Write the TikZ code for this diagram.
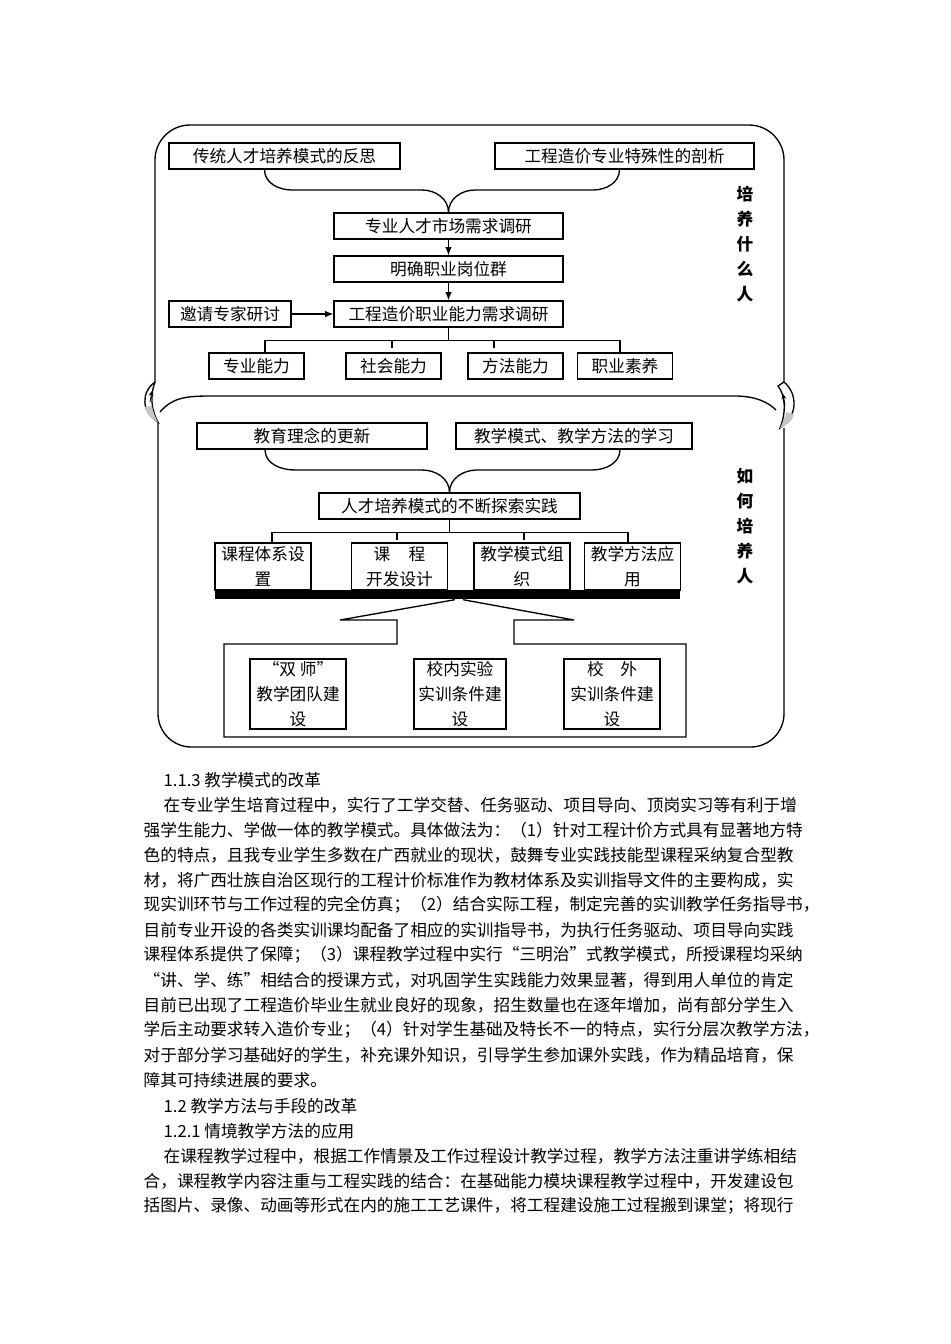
\documentclass[tikz,border=0pt]{standalone}
\usepackage{fontspec}
\setmainfont{Noto Sans CJK SC}
\usetikzlibrary{arrows.meta}
\XeTeXlinebreaklocale "zh"
\XeTeXlinebreakskip=0pt plus 1pt
\newcommand\fullline[2]{\hbox to #1{#2}}

\begin{document}
\begin{tikzpicture}[x=0.6pt, y=-0.6pt, line width=0.8pt,
  box/.style={draw, inner sep=0pt, minimum height=15.6pt, font=\fontsize{10pt}{15pt}\selectfont},
  twoline/.style={box, align=center, minimum height=28.2pt, minimum width=57.6pt},
  site/.style={box, align=center, minimum height=42pt, minimum width=57.6pt},
  side/.style={align=center, inner sep=0pt, font=\fontsize{10pt}{15pt}\selectfont\bfseries},
  arr/.style={-{Latex[length=5pt,width=4pt]}},
  body/.style={anchor=west, inner sep=0pt, font=\fontsize{10pt}{15pt}\selectfont}]
\useasboundingbox (0,0) rectangle (950,1344);

% upper frame: what to train
\draw[rounded corners=21pt] (155,383) -- (155,125) -- (784,125) -- (784,383);

% lower frame: how to train
\draw[rounded corners=20pt] (158,422) -- (158,747) -- (784,747) -- (784,428);
\draw (160,412) .. controls (172,398) and (185,396) .. (210,396) -- (735,396) .. controls (755,396) and (768,402) .. (776,410);

% curled arrows joining the two frames
\draw[fill=white] (155,382) .. controls (141,392) and (141,412) .. (158,422) .. controls (151,410) and (150,395) .. (155,382);
\fill[gray!45] (145,407) .. controls (147,415) and (152,420) .. (158,422) .. controls (155,417) and (153,412) .. (152,406) -- cycle;
\draw[-{Stealth[length=3pt,width=3pt]}, line width=0.5pt] (150,402) -- (152,391);
\draw[fill=white] (784,382) .. controls (798,394) and (798,416) .. (780,428) .. controls (786,414) and (786,396) .. (778,386) -- (784,382);
\fill[gray!45] (794,414) .. controls (792,422) and (786,426) .. (780,428) .. controls (783,422) and (785,418) .. (786,412) -- cycle;
\draw[-{Stealth[length=3pt,width=3pt]}, line width=0.5pt] (785,405) -- (783,394);

% what to train
\node[box, minimum width=138.6pt] (trad) at (284.5,156) {传统人才培养模式的反思};
\node[box, minimum width=155.4pt] (spec) at (624.5,156) {工程造价专业特殊性的剖析};
\node[box, minimum width=137.4pt] (market) at (448.5,226) {专业人才市场需求调研};
\node[box, minimum width=137.4pt] (post) at (448.5,269) {明确职业岗位群};
\node[box, minimum width=73.2pt] (expert) at (230,314) {邀请专家研讨};
\node[box, minimum width=137.4pt] (ability) at (448.5,314) {工程造价职业能力需求调研};
\node[box, minimum width=57pt] (a1) at (256.5,366) {专业能力};
\node[box, minimum width=57pt] (a2) at (393.5,366) {社会能力};
\node[box, minimum width=57pt] (a3) at (515.5,366) {方法能力};
\node[box, minimum width=57pt] (a4) at (625,366) {职业素养};
\node[side] (q1) at (745,244) {培\\养\\什\\么\\人};

\draw ([xshift=-12pt]trad.south) to[out=-90,in=180] (292,190) -- (422,190) to[out=0,in=90] (market.north);
\draw ([xshift=-3pt]spec.south) to[out=-90,in=0] (593,190) -- (475,190) to[out=180,in=90] (market.north);
\draw[arr] (market) -- (post);
\draw[arr] (post) -- (ability);
\draw[arr] (expert) -- (ability);
\draw (ability.south) -- ++(0,13) coordinate (j1);
\draw ([xshift=5pt]a1.north) |- (j1) -| ([xshift=-3pt]a4.north);
\draw ([xshift=-1pt]a2.north) ++(0,-4) -- ++(0,-8);
\draw ([xshift=-12.9pt]a3.north) ++(0,-4) -- ++(0,-8);

% how to train
\node[box, minimum width=138pt] (idea) at (312,436) {教育理念的更新};
\node[box, minimum width=141.6pt] (learn) at (574,436) {教学模式、教学方法的学习};
\node[box, minimum width=156.6pt] (explore) at (449.5,506) {人才培养模式的不断探索实践};
\node[twoline] (c1) at (263,566.5) {课程体系设\\置};
\node[twoline] (c2) at (399.5,566.5) {课\hspace{1.1em}程\\开发设计};
\node[twoline] (c3) at (522,566.5) {教学模式组\\织};
\node[twoline] (c4) at (632.5,566.5) {教学方法应\\用};
\node[fill=black, inner sep=0pt, minimum width=279pt, minimum height=5.4pt] (bar) at (447.5,594.5) {};
\node[site] (t1) at (298,694) {“双\ 师”\\教学团队建\\设};
\node[site, minimum width=55.2pt] (t2) at (460,694) {校内实验\\实训条件建\\设};
\node[site] (t3) at (612,694) {校\hspace{1em}外\\实训条件建\\设};
\node[side] (q2) at (745,526) {如\\何\\培\\养\\人};

\draw ([xshift=-28.2pt]idea.south) to[out=-90,in=180] (295,470) -- (422,470) to[out=0,in=90] (explore.north);
\draw ([xshift=27.6pt]learn.south) to[out=-90,in=0] (592,470) -- (477,470) to[out=180,in=90] (explore.north);
\draw (explore.south) -- ++(0,13) coordinate (j2);
\draw ([xshift=5.4pt]c1.north) |- (j2) -| ([xshift=-2.7pt]c4.north);
\draw ([xshift=-1.5pt]c2.north) ++(0,-2) -- ++(0,-7);
\draw ([xshift=1.2pt]c3.north) ++(0,-2) -- ++(0,-7);
\draw ([xshift=4.5pt]bar.south) -- (340,620) -- (397,620) -- (397,644) -- (224,644) -- (224,737)
  -- (686,737) -- (686,644) -- (514,644) -- (514,620) -- (574,620) -- ([xshift=9.3pt]bar.south);

% text of the page
\node[body] (l1) at (163,780) {1.1.3 教学模式的改革};
\node[body] (l2) at (163,805) {\fullline{385.8pt}{在专业学生培育过程中，实行了工学交替、任务驱动、项目导向、顶岗实习等有利于增}};
\node[body] (l3) at (143,830) {\fullline{397.8pt}{强学生能力、学做一体的教学模式。具体做法为：（1）针对工程计价方式具有显著地方特}};
\node[body] (l4) at (143,855) {\fullline{397.8pt}{色的特点，且我专业学生多数在广西就业的现状，鼓舞专业实践技能型课程采纳复合型教}};
\node[body] (l5) at (143,880) {\fullline{397.8pt}{材，将广西壮族自治区现行的工程计价标准作为教材体系及实训指导文件的主要构成，实}};
\node[body] (l6) at (143,905) {\fullline{406.2pt}{现实训环节与工作过程的完全仿真；（2）结合实际工程，制定完善的实训教学任务指导书，}};
\node[body] (l7) at (143,930) {\fullline{397.8pt}{目前专业开设的各类实训课均配备了相应的实训指导书，为执行任务驱动、项目导向实践}};
\node[body] (l8) at (143,955) {\fullline{397.8pt}{课程体系提供了保障；（3）课程教学过程中实行“三明治”式教学模式，所授课程均采纳}};
\node[body] (l9) at (143,980) {\fullline{397.8pt}{“讲、学、练”相结合的授课方式，对巩固学生实践能力效果显著，得到用人单位的肯定}};
\node[body] (l10) at (143,1005) {\fullline{397.8pt}{目前已出现了工程造价毕业生就业良好的现象，招生数量也在逐年增加，尚有部分学生入}};
\node[body] (l11) at (143,1030) {\fullline{406.2pt}{学后主动要求转入造价专业；（4）针对学生基础及特长不一的特点，实行分层次教学方法，}};
\node[body] (l12) at (143,1055) {\fullline{397.8pt}{对于部分学习基础好的学生，补充课外知识，引导学生参加课外实践，作为精品培育，保}};
\node[body] (l13) at (143,1080) {障其可持续进展的要求。};
\node[body] (l14) at (163,1106) {1.2 教学方法与手段的改革};
\node[body] (l15) at (163,1131) {1.2.1 情境教学方法的应用};
\node[body] (l16) at (163,1156) {\fullline{385.8pt}{在课程教学过程中，根据工作情景及工作过程设计教学过程，教学方法注重讲学练相结}};
\node[body] (l17) at (143,1181) {\fullline{397.8pt}{合，课程教学内容注重与工程实践的结合：在基础能力模块课程教学过程中，开发建设包}};
\node[body] (l18) at (143,1206) {\fullline{397.8pt}{括图片、录像、动画等形式在内的施工工艺课件，将工程建设施工过程搬到课堂；将现行}};
\end{tikzpicture}
\end{document}
